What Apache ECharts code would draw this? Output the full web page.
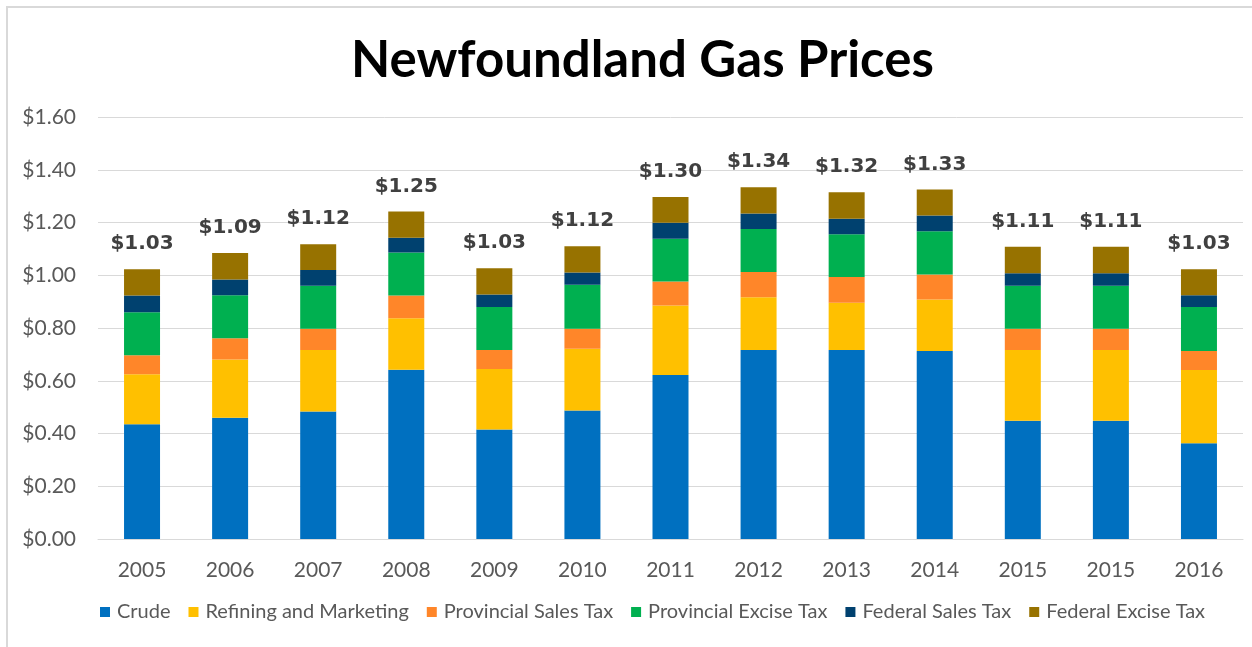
<!DOCTYPE html>
<html>
<head>
<meta charset="utf-8">
<script src="https://cdn.jsdelivr.net/npm/echarts@6/dist/echarts.min.js"></script>
<style>
html,body{margin:0;padding:0;background:#fff;}
#frame{position:absolute;left:6px;top:6px;width:1300px;height:700px;border-left:2px solid #d9d9d9;border-top:2px solid #d9d9d9;}
#chart{position:absolute;left:0;top:0;width:1252px;height:647px;}
</style>
</head>
<body>
<div id="frame"></div>
<div id="chart"></div>
<script>
const categories = ['2005','2006','2007','2008','2009','2010','2011','2012','2013','2014','2015','2015','2016'];
const crude        = [0.435,0.460,0.483,0.642,0.415,0.487,0.622,0.717,0.717,0.713,0.448,0.448,0.363];
const refining     = [0.190,0.221,0.234,0.195,0.230,0.234,0.263,0.200,0.179,0.195,0.269,0.269,0.278];
const provSales    = [0.072,0.080,0.080,0.086,0.072,0.076,0.091,0.095,0.097,0.095,0.080,0.080,0.072];
const provExcise   = [0.163,0.163,0.163,0.163,0.163,0.167,0.162,0.163,0.162,0.164,0.163,0.163,0.167];
const fedSales     = [0.063,0.060,0.060,0.056,0.047,0.046,0.061,0.059,0.059,0.060,0.048,0.048,0.044];
const fedExcise    = [0.100,0.100,0.098,0.100,0.100,0.100,0.098,0.100,0.101,0.098,0.100,0.100,0.099];
const totals       = ['$1.03','$1.09','$1.12','$1.25','$1.03','$1.12','$1.30','$1.34','$1.32','$1.33','$1.11','$1.11','$1.03'];

const names  = ['Crude','Refining and Marketing','Provincial Sales Tax','Provincial Excise Tax','Federal Sales Tax','Federal Excise Tax'];
const colors = ['#0070C0','#FFC000','#FF8629','#00B050','#00416F','#977200'];
const values = [crude, refining, provSales, provExcise, fedSales, fedExcise];

const chart = echarts.init(document.getElementById('chart'), null, {renderer:'canvas'});
const series = values.map((arr, i) => {
  const s = {
    name: names[i], type: 'bar', stack: 'total', data: arr, barWidth: 36,
    itemStyle: {color: colors[i]}
  };
  if (i === values.length - 1) {
    s.label = {
      show: true, position: 'top', distance: 15,
      formatter: p => totals[p.dataIndex],
      fontFamily: 'DejaVu Sans', fontWeight: 'bold', fontSize: 20, color: '#404040'
    };
  }
  return s;
});

chart.setOption({
  animation: false,
  backgroundColor: 'transparent',
  color: colors,
  title: {
    text: 'Newfoundland Gas Prices', left: 346, top: 30,
    textStyle: {fontFamily: 'Lato', fontWeight: 'bold', fontSize: 51, color: '#000'}
  },
  legend: {
    top: 597, left: 95, icon: 'rect', itemWidth: 10, itemHeight: 10, itemGap: 18,
    textStyle: {fontFamily: 'Lato', fontSize: 20, color: '#595959', padding: [0, 0, 0, 2]},
    data: names
  },
  grid: {left: 98, right: 9, top: 117, bottom: 108, containLabel: false},
  xAxis: {
    type: 'category', data: categories,
    axisLine: {lineStyle: {color: '#d9d9d9', width: 1}},
    axisTick: {show: false},
    axisLabel: {fontFamily: 'Lato', fontSize: 21, color: '#595959', margin: 21}
  },
  yAxis: {
    type: 'value', min: 0, max: 1.6, interval: 0.2,
    axisLine: {show: false}, axisTick: {show: false},
    splitLine: {lineStyle: {color: '#d9d9d9', width: 1}},
    axisLabel: {fontFamily: 'Lato', fontSize: 21, color: '#595959', margin: 22,
      formatter: v => '$' + v.toFixed(2)}
  },
  series: series
});
</script>
</body>
</html>
